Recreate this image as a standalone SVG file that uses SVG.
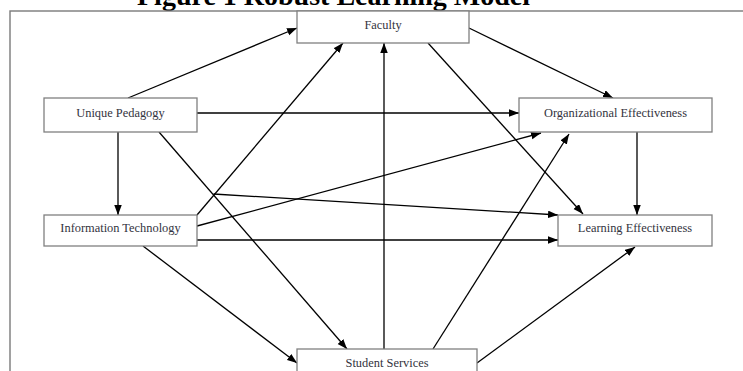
<svg xmlns="http://www.w3.org/2000/svg" width="743" height="371" viewBox="0 0 743 371">
<style>
.frame{fill:none;stroke:#7a7a7a;stroke-width:1.4}
.box{fill:#ffffff;stroke:#808080;stroke-width:1.3}
.lbl{font-family:"Liberation Serif","Times New Roman",serif;font-size:12.4px;fill:#333340;text-anchor:middle;dominant-baseline:central}
.title{font-family:"Liberation Serif","Times New Roman",serif;font-size:28px;font-weight:bold;fill:#000}
.edge{stroke:#000;stroke-width:1.3;fill:none}
.arr{marker-end:url(#ah)}
</style>
<defs>
<marker id="ah" markerUnits="userSpaceOnUse" markerWidth="11" markerHeight="8" refX="10" refY="3.75" orient="auto">
<path d="M0,0 L10,3.75 L0,7.5 z" fill="#000"/>
</marker>
</defs>
<rect width="743" height="371" fill="#ffffff"/>
<text class="title" x="137" y="5">Figure 1 Robust Learning Model</text>
<rect class="frame" x="10" y="11" width="760" height="400"/>
<g id="connectors">
<line class="edge arr" x1="128" y1="98" x2="297" y2="28"/>
<line class="edge arr" x1="197" y1="215" x2="343" y2="43"/>
<line class="edge arr" x1="384" y1="349" x2="384" y2="43"/>
<line class="edge arr" x1="469" y1="28" x2="613" y2="98"/>
<line class="edge arr" x1="428" y1="43" x2="583" y2="214"/>
<line class="edge arr" x1="197" y1="113" x2="519" y2="113"/>
<line class="edge arr" x1="118" y1="132" x2="118" y2="215"/>
<line class="edge arr" x1="159" y1="132" x2="347" y2="349"/>
<line class="edge arr" x1="197" y1="226" x2="541" y2="133"/>
<line class="edge arr" x1="213.5" y1="194" x2="558" y2="215"/>
<line class="edge arr" x1="197" y1="240" x2="558" y2="240"/>
<line class="edge arr" x1="143" y1="246" x2="297" y2="363"/>
<line class="edge arr" x1="433" y1="349" x2="569" y2="134"/>
<line class="edge arr" x1="477" y1="363" x2="635" y2="247"/>
<line class="edge arr" x1="637" y1="132" x2="637" y2="215"/>
</g>
<g id="faculty">
<rect class="box" x="297" y="11" width="172" height="32"/>
<text class="lbl" x="383" y="25">Faculty</text>
</g>
<g id="unique-pedagogy">
<rect class="box" x="44" y="98" width="153" height="34"/>
<text class="lbl" x="120.5" y="113">Unique Pedagogy</text>
</g>
<g id="organizational-effectiveness">
<rect class="box" x="519" y="98" width="193" height="34"/>
<text class="lbl" x="615.5" y="113">Organizational Effectiveness</text>
</g>
<g id="information-technology">
<rect class="box" x="44" y="215" width="153" height="31"/>
<text class="lbl" x="120.5" y="228">Information Technology</text>
</g>
<g id="learning-effectiveness">
<rect class="box" x="558" y="215" width="154" height="31"/>
<text class="lbl" x="635" y="228">Learning Effectiveness</text>
</g>
<g id="student-services">
<rect class="box" x="297" y="349" width="180" height="40"/>
<text class="lbl" x="387" y="363">Student Services</text>
</g>
</svg>
